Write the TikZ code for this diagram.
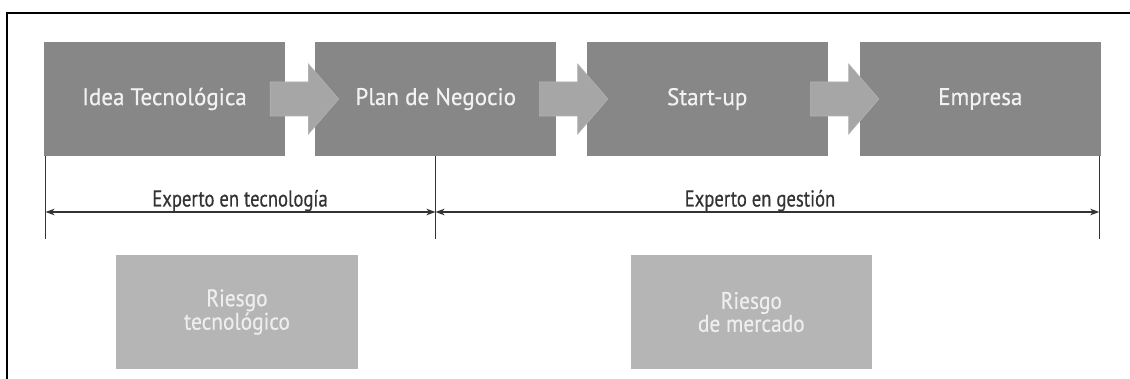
\documentclass[tikz,border=0pt]{standalone}
\usepackage{fontspec}
\setmainfont{PT Sans}
\newfontfamily\stagefont{PT Sans}[FakeStretch=0.96, FakeBold=0.6]
\newfontfamily\dimfont{PT Sans}[FakeStretch=0.81, FakeBold=0.4]
\newfontfamily\riskfont{PT Sans}[FakeStretch=0.89, FakeBold=0.5]
\usetikzlibrary{arrows.meta}
\definecolor{boxgray}{HTML}{878787}
\definecolor{arrowgray}{HTML}{A6A6A6}
\definecolor{arrowedge}{HTML}{B2B2B2}
\definecolor{riskgray}{HTML}{B5B5B5}
\definecolor{boxtext}{HTML}{F2F2F2}
\definecolor{risktext}{HTML}{EEEEEE}
\definecolor{linegray}{HTML}{333333}
\begin{document}
\begin{tikzpicture}[x=1pt,y=-1pt,
  stagebox/.style={fill=boxgray, minimum width=241pt, minimum height=113.4pt, inner sep=0pt,
    text=boxtext, font=\stagefont\fontsize{24}{26}\selectfont},
  riskbox/.style={fill=riskgray, minimum width=241.5pt, minimum height=114pt, inner sep=0pt,
    text=risktext, align=center, font=\riskfont\fontsize{24}{21}\selectfont},
  dimlabel/.style={text=linegray, font=\dimfont\fontsize{23}{24}\selectfont, inner sep=0pt, anchor=base},
  dimtick/.style={draw=linegray, line width=1.5pt},
  dimline/.style={draw=linegray, line width=1.3pt,
    {Stealth[length=9pt,width=6.5pt,inset=2.5pt]}-{Stealth[length=9pt,width=6.5pt,inset=2.5pt]}},
  flowarrow/.pic={\filldraw[fill=arrowgray, draw=arrowedge, line width=0.6pt]
    (0,-17) -- (38.3,-17) -- (38.3,-35) -- (68.5,0) -- (38.3,35) -- (38.3,17) -- (0,17) -- cycle;}
]
\useasboundingbox (0,0) rectangle (1130,379);
% frame
\draw[line width=2pt, black] (7.3,379) -- (7.3,13.3) -- (1130,13.3);
% stage boxes
\node[stagebox] (b1) at (164.5,99) {Idea Tecnológica};
\node[stagebox] (b2) at (435.7,99) {Plan de Negocio};
\node[stagebox] (b3) at (707.2,99) {Start-up};
\node[stagebox] (b4) at (980.3,99) {Empresa};
% flow arrows
\path ([xshift=-15pt]b1.east) pic {flowarrow};
\path ([xshift=-17pt]b2.east) pic {flowarrow};
\path ([xshift=-17.5pt]b3.east) pic {flowarrow};
% dimension ticks
\coordinate (t1a) at (45.5,155.7);  \coordinate (t1b) at (45.5,239.3);
\coordinate (t2a) at (435.5,155.7); \coordinate (t2b) at (435.5,239.3);
\coordinate (t3a) at (1099.3,155.7); \coordinate (t3b) at (1099.3,239.3);
\draw[dimtick] (t1a) -- (t1b);
\draw[dimtick] (t2a) -- (t2b);
\draw[dimtick] (t3a) -- (t3b);
\coordinate (d1) at (45.5,212);
\coordinate (d2) at (435.5,212);
\coordinate (d3) at (1099.3,212);
\draw[dimline] (d1) -- (d2);
\draw[dimline] (d2) -- (d3);
\node[dimlabel] (l1) at (240,206.5) {Experto en tecnología};
\node[dimlabel] (l2) at (760,206.5) {Experto en gestión};
% risk boxes
\node[riskbox] (r1) at (237,312) {Riesgo\\tecnológico};
\node[riskbox] (r2) at (751.3,312) {Riesgo\\de mercado};
\end{tikzpicture}
\end{document}
